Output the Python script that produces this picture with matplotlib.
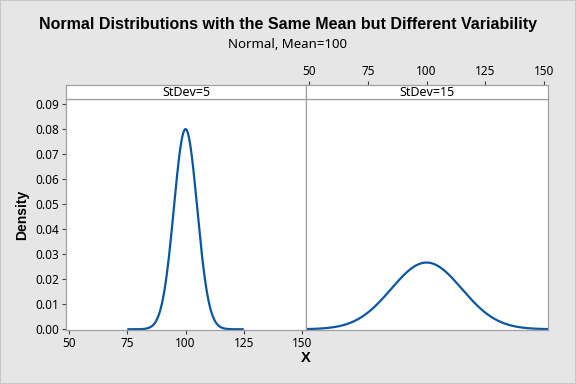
import numpy as np
import matplotlib.pyplot as plt
from matplotlib.patches import Rectangle

plt.rcParams['font.family'] = ['Noto Sans', 'DejaVu Sans']

# distribution parameters
mean = 100
stdevs = [5, 15]
panel_labels = ["StDev=5", "StDev=15"]
x_ticks = [50, 75, 100, 125, 150]
y_ticks = [0.00, 0.01, 0.02, 0.03, 0.04, 0.05, 0.06, 0.07, 0.08, 0.09]

line_color = "#0a56a3"
bg = "#e6e6e6"
edge = "#a0a0a0"
bold_font = ['Liberation Sans', 'DejaVu Sans']

fig = plt.figure(figsize=(5.76, 3.84), dpi=100, facecolor=bg)
fig.patches.append(Rectangle((0, 0), 1, 1, transform=fig.transFigure, fill=False,
                             edgecolor="#c8c8c8", lw=1.5))

left, mid, right = 66 / 576, 306 / 576, 548 / 576
bottom, top = 1 - 330 / 384, 1 - 99 / 384
strip_h = 14 / 384

axes = []
for i, sd in enumerate(stdevs):
    x0 = [left, mid][i]
    x1 = [mid, right][i]
    ax = fig.add_axes([x0, bottom, x1 - x0, top - bottom])
    axes.append(ax)
    x = np.linspace(max(mean - 5 * sd, 48.7), min(mean + 5 * sd, 151.7), 400)
    y = np.exp(-0.5 * ((x - mean) / sd) ** 2) / (sd * np.sqrt(2 * np.pi))
    ax.plot(x, y, color=line_color, lw=1.6, solid_capstyle="butt")
    ax.set_xlim(48.7, 151.7)
    ax.set_ylim(-0.0003, 0.0918)
    ax.set_xticks(x_ticks)
    for s in ax.spines.values():
        s.set_color(edge)
        s.set_linewidth(0.9)
    ax.tick_params(colors="#404040", labelcolor="black", labelsize=8.5, length=3, width=0.8, pad=2)

    # strip header
    sax = fig.add_axes([x0, top, x1 - x0, strip_h])
    sax.set_xticks([])
    sax.set_yticks([])
    for s in sax.spines.values():
        s.set_color(edge)
        s.set_linewidth(0.9)
    sax.text(0.5, 0.45, panel_labels[i], ha="center", va="center", fontsize=9,
             transform=sax.transAxes)
    if i == 1:
        sax.set_xlim(48.7, 151.7)
        sax.set_xticks(x_ticks)
        sax.xaxis.tick_top()
        sax.tick_params(colors="#404040", labelcolor="black", labelsize=8.5, length=3, width=0.8, pad=2)

axes[0].set_yticks(y_ticks)
axes[0].set_yticklabels(["%.2f" % v for v in y_ticks])
axes[1].set_yticks([])
axes[1].tick_params(axis="x", bottom=False, labelbottom=False)

fig.text(0.5, 1 - 25 / 384, "Normal Distributions with the Same Mean but Different Variability",
         ha="center", va="center", fontsize=11.5, fontweight="bold", family=bold_font)
fig.text(0.5, 1 - 45 / 384, "Normal, Mean=100", ha="center", va="center", fontsize=9.5)
fig.text(mid, 1 - 358 / 384, "X", ha="center", va="center", fontsize=10.5,
         fontweight="bold", family=bold_font)
fig.text(22 / 576, (top + bottom) / 2, "Density", ha="center", va="center",
         rotation=90, fontsize=10, fontweight="bold", family=bold_font)

fig.savefig("out.png", dpi=100, facecolor=bg)
